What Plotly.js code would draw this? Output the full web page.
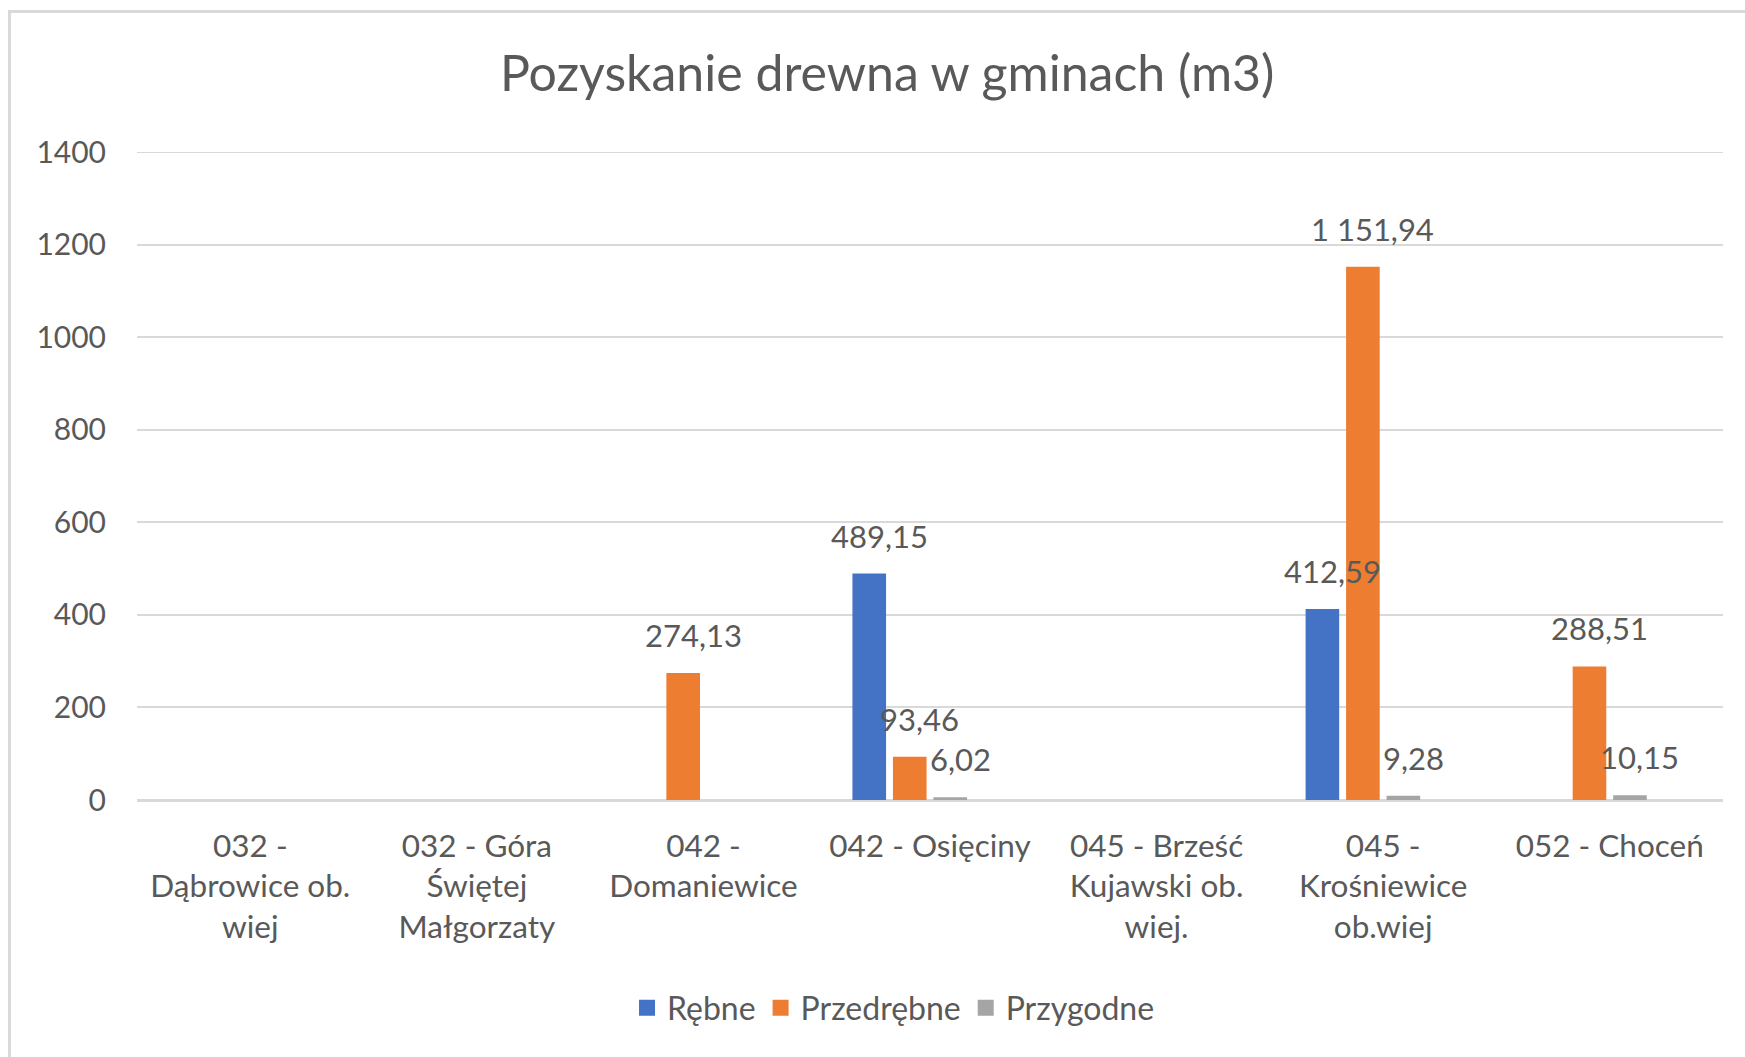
<!DOCTYPE html>
<html>
<head>
<meta charset="utf-8">
<script src="https://cdn.plot.ly/plotly-3.0.1.min.js"></script>
<style>
  html, body { margin: 0; padding: 0; background: #ffffff; overflow: hidden; }
  #frame { position: absolute; left: 8px; top: 10px; width: 2000px; height: 2000px;
           border-left: 3px solid #d9d9d9; border-top: 3px solid #d9d9d9; box-sizing: border-box; }
  #chart { position: absolute; left: 0; top: 0; width: 1745px; height: 1057px; }
</style>
</head>
<body>
<div id="frame"></div>
<div id="chart"></div>
<script>
const categories = [
  "032 -<br>Dąbrowice ob.<br>wiej",
  "032 - Góra<br>Świętej<br>Małgorzaty",
  "042 -<br>Domaniewice",
  "042 - Osięciny",
  "045 - Brześć<br>Kujawski ob.<br>wiej.",
  "045 -<br>Krośniewice<br>ob.wiej",
  "052 - Choceń"
];
const rebne      = [null, null, null, 489.15, null, 412.59, null];
const przedrebne = [null, null, 274.13, 93.46, null, 1151.94, 288.51];
const przygodne  = [null, null, null, 6.02, null, 9.28, 10.15];
const emptySeries = [null, null, null, null, null, null, null];
const seriesNames = ["Rębne", "Przedrębne", "Przygodne"];
const seriesColors = ["#4472C4", "#ED7D31", "#A5A5A5"];
const yTicks = [0, 200, 400, 600, 800, 1000, 1200, 1400];

const FONT = "Lato, 'Open Sans', sans-serif";
const TXT = "#595959";

const W = 1745, H = 1057;
const M = { l: 137, r: 22, t: 152, b: 257 };
const BARGAP = 0.285, GROUPGAP = 0.17, NSLOTS = 4;

function fmtPL(v) {
  const parts = v.toFixed(2).split(".");
  const intPart = parts[0].replace(/\B(?=(\d{3})+(?!\d))/g, " ");
  return intPart + "," + parts[1];
}

function barTrace(name, values, color) {
  return {
    type: "bar", name: name, x: categories, y: values,
    marker: { color: color },
    showlegend: false,
    hoverinfo: "x+y"
  };
}

const allSeries = [rebne, przedrebne, przygodne];
const data = [
  barTrace(seriesNames[0], rebne, seriesColors[0]),
  barTrace(seriesNames[1], przedrebne, seriesColors[1]),
  barTrace(seriesNames[2], przygodne, seriesColors[2]),
  barTrace("", emptySeries, "rgba(0,0,0,0)")
];
// legend entries with larger square swatches
seriesNames.forEach((n, i) => {
  data.push({
    type: "scatter", mode: "markers", name: n, x: [null], y: [null],
    marker: { symbol: "square", size: 18, color: seriesColors[i] },
    showlegend: true, hoverinfo: "skip"
  });
});

// data labels as annotations anchored to the data values
const plotW = W - M.l - M.r;
const catW = plotW / categories.length;
const slotW = catW * (1 - BARGAP) / NSLOTS;
const annotations = [];
allSeries.forEach((vals, si) => {
  vals.forEach((v, ci) => {
    if (v === null) return;
    annotations.push({
      x: categories[ci], y: v, xref: "x", yref: "y",
      text: fmtPL(v), showarrow: false,
      xanchor: "center", yanchor: "middle",
      xshift: (si - (NSLOTS - 1) / 2) * slotW + 10, yshift: 38,
      font: { family: FONT, size: 31, color: TXT }
    });
  });
});

const layout = {
  width: W, height: H,
  paper_bgcolor: "rgba(0,0,0,0)",
  plot_bgcolor: "rgba(0,0,0,0)",
  font: { family: FONT, color: TXT, size: 30 },
  margin: { l: M.l, r: M.r, t: M.t, b: M.b, autoexpand: false },
  title: {
    text: "Pozyskanie drewna w gminach (m3)",
    font: { family: FONT, size: 50, color: TXT },
    x: 0.473, xanchor: "center", y: 0.93, yanchor: "middle", xref: "paper"
  },
  barmode: "group",
  bargap: BARGAP,
  bargroupgap: GROUPGAP,
  xaxis: {
    type: "category",
    tickfont: { family: FONT, size: 31.5, color: TXT },
    showline: false, showgrid: false, ticks: "", zeroline: false,
    tickangle: 0, automargin: false, ticklabelstandoff: 24
  },
  yaxis: {
    range: [0, 1400],
    tickvals: yTicks,
    ticktext: yTicks.map(String),
    tickfont: { family: FONT, size: 30, color: TXT },
    showgrid: true, gridcolor: "#d9d9d9", gridwidth: 2,
    zeroline: true, zerolinecolor: "#d9d9d9", zerolinewidth: 3,
    showline: false, ticks: "outside", ticklen: 24, tickcolor: "rgba(0,0,0,0)",
    automargin: false
  },
  shapes: [{
    type: "line", xref: "paper", yref: "y", x0: 0, x1: 1,
    y0: yTicks[yTicks.length - 1], y1: yTicks[yTicks.length - 1],
    line: { color: "#d9d9d9", width: 2 }, layer: "below"
  }],
  legend: {
    orientation: "h", x: 0.477, xanchor: "center", y: -0.321, yanchor: "middle",
    font: { family: FONT, size: 32, color: TXT },
    itemclick: false, itemdoubleclick: false
  },
  annotations: annotations,
  showlegend: true
};

Plotly.newPlot("chart", data, layout, { displayModeBar: false, staticPlot: true });
</script>
</body>
</html>
